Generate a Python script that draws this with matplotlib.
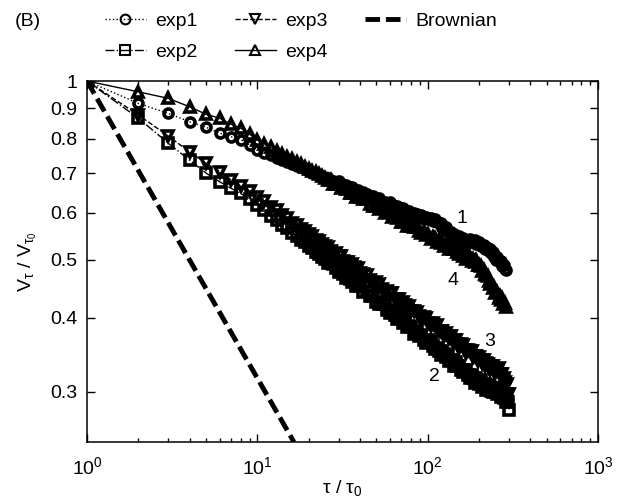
import numpy as np
import matplotlib
matplotlib.use('Agg')
import matplotlib.pyplot as plt
from matplotlib.ticker import FixedLocator, FixedFormatter, NullLocator

plt.rcParams['font.family'] = ['Liberation Sans', 'DejaVu Sans']
plt.rcParams['mathtext.fontset'] = 'custom'
plt.rcParams['mathtext.rm'] = 'Liberation Sans'
plt.rcParams['mathtext.it'] = 'Liberation Sans'
plt.rcParams['mathtext.bf'] = 'Liberation Sans:bold'

# sampling times tau / tau0
tau = [1, 2, 3, 4, 5, 6, 7, 8, 9, 10, 11, 12, 13, 14, 15, 16, 17, 18, 19, 20,
       21, 22, 23, 24, 25, 26, 27, 28, 29, 30, 31, 32, 33, 34, 35, 36, 37, 38, 39, 40,
       42, 44, 46, 48, 50, 52, 54, 56, 58, 60, 62, 64, 66, 68, 70, 72, 74, 76, 78, 80,
       83, 86, 89, 92, 95, 98, 101, 104, 107, 110, 113, 116, 119, 122, 125, 128, 131,
       134, 137, 140, 143, 146, 149,
       153, 157, 161, 165, 169, 173, 177, 181, 185, 189, 193, 197, 201, 205, 209, 213,
       217, 221, 225, 229, 233, 237, 241, 245, 249, 253, 257, 261, 265, 269, 273, 277,
       281, 285, 289, 293, 297, 301]

# V_tau / V_tau0  (exp1 and exp4 stop at tau = 289)
exp1 = [1.0, .917, .882, .854, .836, .817, .806, .796, .781, .766,
        .758, .751, .742, .737, .730, .726, .719, .716, .710, .707,
        .701, .700, .694, .692, .687, .688, .679, .680, .672, .678,
        .670, .668, .669, .660, .664, .663, .655, .654, .656, .647,
        .650, .645, .638, .641, .632, .635, .626, .627, .620, .625,
        .618, .616, .617, .608, .612, .612, .604, .603, .605, .596,
        .600, .597, .590, .595, .587, .591, .585, .588, .582, .587,
        .579, .576, .576, .566, .569, .568, .558, .557, .558, .549,
        .552, .549, .543,
        .548, .541, .544, .537, .540, .534, .542, .537, .538, .540,
        .532, .536, .536, .528, .528, .530, .521, .525, .523, .517,
        .522, .513, .515, .506, .507, .500, .505, .498, .497, .498,
        .488, .491, .490, .482, .481]
exp2 = [1.0, .866, .786, .736, .700, .677, .660, .647, .633, .619,
        .607, .593, .584, .572, .565, .555, .549, .540, .535, .527,
        .523, .515, .512, .505, .502, .494, .495, .493, .484, .478,
        .479, .474, .466, .470, .465, .459, .462, .452, .454, .452,
        .441, .443, .435, .434, .425, .421, .422, .421, .412, .407,
        .409, .404, .397, .401, .397, .391, .395, .385, .387, .386,
        .376, .380, .373, .374, .367, .363, .366, .365, .358, .354,
        .356, .352, .346, .351, .347, .343, .346, .338, .340, .339,
        .332, .337, .332,
        .332, .327, .324, .327, .327, .320, .317, .320, .316, .311,
        .316, .313, .309, .314, .306, .309, .309, .302, .308, .303,
        .306, .301, .300, .304, .305, .300, .297, .302, .299, .294,
        .300, .297, .293, .297, .288, .290, .288, .280]
exp3 = [1.0, .877, .808, .760, .727, .704, .682, .665, .652, .639,
        .628, .614, .606, .595, .588, .578, .573, .564, .559, .552,
        .548, .541, .538, .531, .528, .526, .517, .511, .513, .508,
        .508, .498, .496, .496, .487, .492, .486, .481, .484, .475,
        .474, .471, .463, .456, .459, .455, .447, .441, .444, .440,
        .440, .430, .429, .429, .421, .425, .420, .415, .419, .410,
        .411, .409, .403, .397, .401, .399, .391, .387, .391, .387,
        .388, .379, .379, .380, .372, .377, .372, .369, .373, .364,
        .367, .366, .361,
        .356, .361, .360, .353, .349, .353, .351, .352, .343, .344,
        .345, .338, .343, .339, .336, .340, .332, .335, .334, .330,
        .326, .332, .331, .325, .323, .328, .327, .329, .321, .321,
        .321, .313, .317, .312, .307, .309, .298, .298]
exp4 = [1.0, .959, .935, .905, .879, .866, .846, .833, .814, .796,
        .784, .773, .763, .754, .746, .738, .731, .725, .718, .712,
        .707, .702, .697, .692, .688, .681, .682, .671, .672, .671,
        .661, .663, .657, .659, .648, .648, .648, .639, .643, .637,
        .634, .632, .622, .616, .617, .609, .611, .600, .602, .601,
        .591, .593, .588, .590, .580, .580, .580, .571, .576, .570,
        .568, .568, .559, .555, .557, .550, .553, .543, .546, .545,
        .537, .540, .534, .537, .528, .530, .530, .522, .527, .521,
        .521, .523, .515,
        .511, .514, .508, .511, .502, .505, .505, .498, .501, .496,
        .499, .491, .491, .489, .479, .481, .473, .471, .470, .460,
        .456, .457, .449, .451, .440, .442, .441, .431, .434, .428,
        .431, .422, .424, .424, .417]

# Brownian reference line
brown_tau = [1, 4, 16.4]
brown_v = [1.0, 0.5, 0.247]

yticks = [0.3, 0.4, 0.5, 0.6, 0.7, 0.8, 0.9, 1.0]
ytick_labels = ['0.3', '0.4', '0.5', '0.6', '0.7', '0.8', '0.9', '1']

curve_labels = ['1', '4', '3', '2']
curve_label_pos = [(160, 0.588), (140, 0.461), (231, 0.364), (110, 0.318)]

fig = plt.figure(figsize=(6.22, 4.99), dpi=100)
ax = fig.add_axes([87/622, 57/499, 511/622, 361/499])

mk = dict(mfc='none', mec='k', mew=2.6, color='k', lw=1.0)
ax.plot(tau[:len(exp1)], exp1, ':', marker='o', ms=6.5, label='exp1', **mk)
ax.plot(tau[:len(exp2)], exp2, '-.', marker='s', ms=6.5, label='exp2', **mk)
ax.plot(tau[:len(exp3)], exp3, '--', marker='v', ms=7.5, label='exp3', **mk)
ax.plot(tau[:len(exp4)], exp4, '-', marker='^', ms=7.5, label='exp4', **mk)
ax.plot(brown_tau, brown_v, color='k', lw=3.5, dashes=(3, 1.2), label='Brownian')

ax.set_xscale('log')
ax.set_yscale('log')
ax.set_xlim(1, 1000)
ax.set_ylim(0.247, 1.0)
ax.yaxis.set_major_locator(FixedLocator(yticks))
ax.yaxis.set_major_formatter(FixedFormatter(ytick_labels))
ax.yaxis.set_minor_locator(NullLocator())

ax.tick_params(which='both', direction='in', top=True, right=True, labelsize=14)
ax.tick_params(which='major', length=5.5, width=1)
ax.tick_params(which='minor', length=3, width=1)
ax.tick_params(axis='x', pad=10)
ax.tick_params(axis='y', pad=7)
for s in ax.spines.values():
    s.set_linewidth(1.1)

ax.set_xlabel(r'$\tau\ /\ \tau_0$', fontsize=14, labelpad=0)
ax.set_ylabel(r'$\mathrm{V}_{\tau}\ /\ \mathrm{V}_{\tau_0}$', fontsize=14, labelpad=8)

for t, (x, y) in zip(curve_labels, curve_label_pos):
    ax.text(x, y, t, fontsize=14, ha='center', va='center')

fig.text(15/622, 1 - 21/499, '(B)', fontsize=14, ha='left', va='center')
leg = fig.legend(loc='upper left', bbox_to_anchor=(105/622, 1 - 12/499), ncol=3, frameon=False,
                 fontsize=14, numpoints=1, handlelength=2.1, handletextpad=0.5,
                 columnspacing=1.9, labelspacing=0.7, borderpad=0, borderaxespad=0)
for h in leg.legend_handles:
    h.set_markeredgewidth(1.5)
    h.set_markersize(7)

fig.savefig('out.png', dpi=100)
